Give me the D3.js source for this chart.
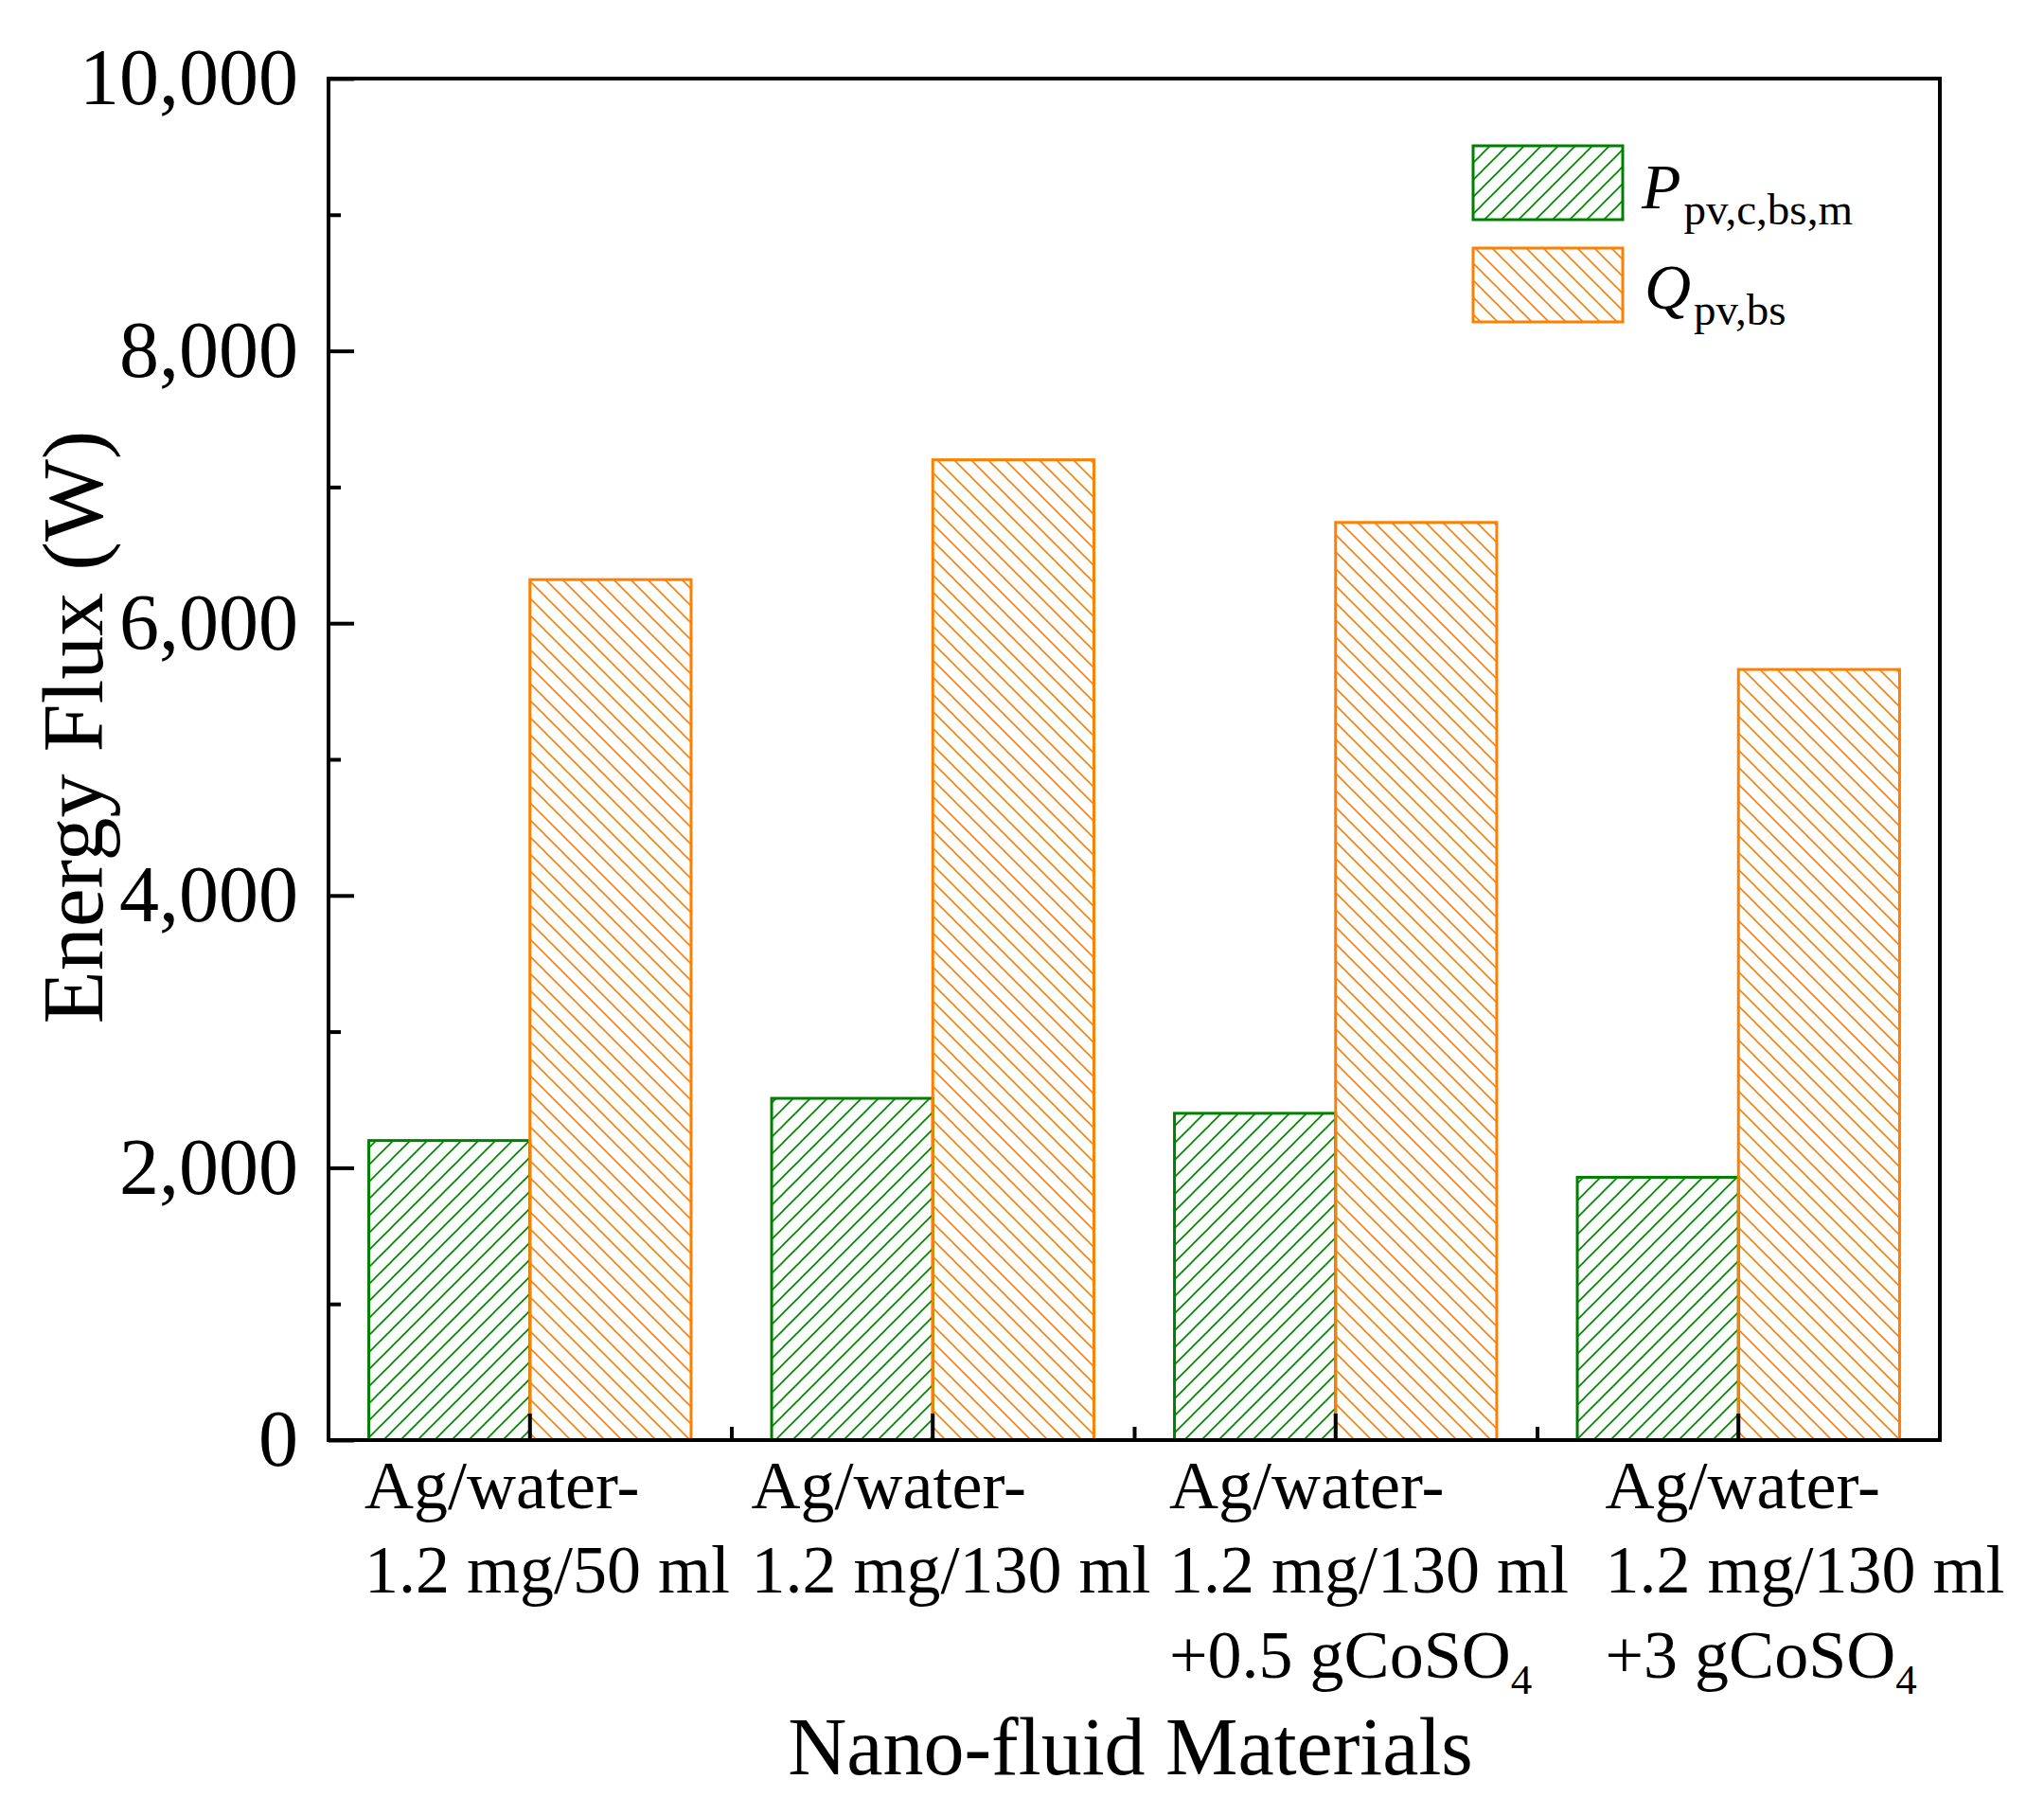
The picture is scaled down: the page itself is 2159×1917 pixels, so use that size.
<!DOCTYPE html>
<html>
<head>
<meta charset="utf-8">
<script src="https://cdn.jsdelivr.net/npm/d3@7"></script>
<style>
  html, body { margin: 0; padding: 0; background: #fff; }
  svg { display: block; }
  text { font-family: "Liberation Serif", "Times New Roman", serif; fill: #000; }
</style>
</head>
<body>
<svg id="chart" width="2159" height="1917"></svg>
<script>
// ---------- data ----------
const categories = [
  ["Ag/water-", "1.2 mg/50 ml"],
  ["Ag/water-", "1.2 mg/130 ml"],
  ["Ag/water-", "1.2 mg/130 ml", "+0.5 gCoSO|4"],
  ["Ag/water-", "1.2 mg/130 ml", "+3 gCoSO|4"]
];
const seriesNames = ["P", "Q"];
const seriesMain = ["P", "Q"];
const seriesSub = ["pv,c,bs,m", "pv,bs"];
const pValues = [2200, 2510, 2400, 1930];
const qValues = [6320, 7200, 6740, 5660];
const yMajorTicks = [0, 2000, 4000, 6000, 8000, 10000];
const yMinorTicks = [1000, 3000, 5000, 7000, 9000];
const yTitle = "Energy Flux (W)";
const xTitle = "Nano-fluid Materials";

// ---------- layout ----------
const W = 2159, H = 1917;
const L = 347, R = 2049, T = 83, B = 1521;
const colors = { P: "#008000", Q: "#ff8000" };
const labelShift = [38, 21, 37, 72];

const svg = d3.select("#chart");

// patterns
const defs = svg.append("defs");
function hatch(id, color, dir) {
  const s = 18;
  const p = defs.append("pattern").attr("id", id)
    .attr("patternUnits", "userSpaceOnUse").attr("width", s).attr("height", s);
  const g = p.append("g").attr("stroke", color).attr("stroke-width", 1.6);
  if (dir > 0) {
    g.append("line").attr("x1", 0).attr("y1", s).attr("x2", s).attr("y2", 0);
    g.append("line").attr("x1", -s/2).attr("y1", s/2).attr("x2", s/2).attr("y2", -s/2);
    g.append("line").attr("x1", s/2).attr("y1", s*1.5).attr("x2", s*1.5).attr("y2", s/2);
  } else {
    g.append("line").attr("x1", 0).attr("y1", 0).attr("x2", s).attr("y2", s);
    g.append("line").attr("x1", -s/2).attr("y1", s/2).attr("x2", s/2).attr("y2", s*1.5);
    g.append("line").attr("x1", s/2).attr("y1", -s/2).attr("x2", s*1.5).attr("y2", s/2);
  }
}
hatch("hatchP", colors.P, 1);
hatch("hatchQ", colors.Q, -1);

// scales
const idx = categories.map((d, i) => i);
const x0 = d3.scaleBand().domain(idx).range([L, R]).paddingInner(0).paddingOuter(0);
const bw = x0.bandwidth();
const x1 = d3.scaleBand().domain(seriesNames).range([bw * 0.1, bw * 0.9]);
const y = d3.scaleLinear().domain([0, 10000]).range([B, T]);

// bars
const rows = idx.map(i => ({ i, vals: [ { k: "P", v: pValues[i] }, { k: "Q", v: qValues[i] } ] }));
const gBars = svg.append("g");
rows.forEach(r => {
  gBars.selectAll(null).data(r.vals).enter().append("rect")
    .attr("x", d => x0(r.i) + x1(d.k))
    .attr("y", d => y(d.v))
    .attr("width", x1.bandwidth())
    .attr("height", d => y(0) - y(d.v))
    .attr("fill", d => d.k === "P" ? "url(#hatchP)" : "url(#hatchQ)")
    .attr("stroke", d => colors[d.k])
    .attr("stroke-width", 3);
});

// y axis
const yAxis = d3.axisLeft(y).tickValues(yMajorTicks).tickSize(-27).tickPadding(32)
  .tickFormat(d3.format(","));
const gy = svg.append("g").attr("transform", `translate(${L},0)`).call(yAxis);
gy.select(".domain").remove();
gy.selectAll(".tick line").attr("stroke", "#000").attr("stroke-width", 4);
gy.selectAll(".tick text").attr("font-size", 84)
  .style("font-family", '"Liberation Serif", "Times New Roman", serif').attr("fill", "#000");

const yMinor = d3.axisLeft(y).tickValues(yMinorTicks).tickSize(-13).tickFormat("");
const gym = svg.append("g").attr("transform", `translate(${L},0)`).call(yMinor);
gym.select(".domain").remove();
gym.selectAll(".tick line").attr("stroke", "#000").attr("stroke-width", 4);

// x axis major ticks at group centres
const xAxis = d3.axisBottom(x0).tickSize(-28).tickFormat("");
const gx = svg.append("g").attr("transform", `translate(0,${B})`).call(xAxis);
gx.select(".domain").remove();
gx.selectAll(".tick line").attr("stroke", "#000").attr("stroke-width", 4);

// x minor ticks at group boundaries
const xb = d3.scaleLinear().domain([0, categories.length]).range([L, R]);
const xMinor = d3.axisBottom(xb).tickValues(d3.range(1, categories.length)).tickSize(-14).tickFormat("");
const gxm = svg.append("g").attr("transform", `translate(0,${B})`).call(xMinor);
gxm.select(".domain").remove();
gxm.selectAll(".tick line").attr("stroke", "#000").attr("stroke-width", 4);

// frame
svg.append("rect").attr("x", L).attr("y", T).attr("width", R - L).attr("height", B - T)
  .attr("fill", "none").attr("stroke", "#000").attr("stroke-width", 4);

// x tick labels
const lineY = [1593, 1682, 1772];
categories.forEach((lines, i) => {
  const xs = x0(i) + labelShift[i];
  lines.forEach((ln, j) => {
    const t = svg.append("text").attr("x", xs).attr("y", lineY[j]).attr("font-size", 72);
    const parts = ln.split("|");
    t.append("tspan").text(parts[0]);
    if (parts[1]) t.append("tspan").attr("font-size", 45).attr("dy", 17).text(parts[1]);
  });
});

// axis titles
svg.append("text").attr("x", (L + R) / 2 - 4).attr("y", 1874)
  .attr("text-anchor", "middle").attr("font-size", 86).text(xTitle);
svg.append("text").attr("transform", "translate(108,768) rotate(-90)")
  .attr("text-anchor", "middle").attr("font-size", 92).text(yTitle);

// legend
const legY = [154, 262];
const legBase = [220, 326];
seriesNames.forEach((k, i) => {
  svg.append("rect").attr("x", 1556).attr("y", legY[i]).attr("width", 158).attr("height", 78)
    .attr("fill", k === "P" ? "url(#hatchP)" : "url(#hatchQ)")
    .attr("stroke", colors[k]).attr("stroke-width", 3);
  const t = svg.append("text").attr("x", 1734 + i * 3).attr("y", legBase[i]).attr("font-size", 68);
  t.append("tspan").attr("font-style", "italic").text(seriesMain[i]);
  t.append("tspan").attr("font-size", 47).attr("dx", 3).attr("dy", 17).text(seriesSub[i]);
});
</script>
</body>
</html>
